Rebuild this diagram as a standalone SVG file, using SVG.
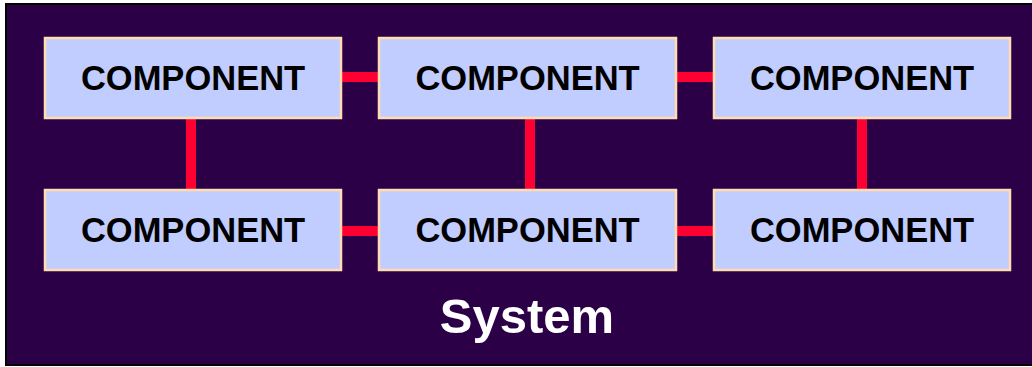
<svg xmlns="http://www.w3.org/2000/svg" width="1032" height="367" viewBox="0 0 1032 367">
<style>
.box{fill:#C1CCFF;stroke:#FFDDB0;stroke-width:2.5}
.lbl{font-family:"Liberation Sans",Arial,sans-serif;font-weight:bold;font-size:34.5px;fill:#000;text-anchor:middle}
.wire{stroke:#FF0033;stroke-width:10;fill:none}
.title{font-family:"Liberation Sans",Arial,sans-serif;font-weight:bold;font-size:49px;fill:#fff;text-anchor:middle}
</style>
<rect width="1032" height="367" fill="#fff"/>
<rect x="6" y="4" width="1030" height="361" fill="#2B0047" stroke="#000" stroke-width="2"/>
<g id="connectors">
<line class="wire" x1="341" y1="77" x2="379" y2="77"/>
<line class="wire" x1="676" y1="77" x2="714" y2="77"/>
<line class="wire" x1="341" y1="231" x2="379" y2="231"/>
<line class="wire" x1="676" y1="231" x2="714" y2="231"/>
<line class="wire" x1="191" y1="118" x2="191" y2="190"/>
<line class="wire" x1="530" y1="118" x2="530" y2="190"/>
<line class="wire" x1="862" y1="118" x2="862" y2="190"/>
</g>
<g id="c1"><rect class="box" x="45" y="38" width="296" height="80"/><text class="lbl" x="193" y="89.5">COMPONENT</text></g>
<g id="c2"><rect class="box" x="379" y="38" width="297" height="80"/><text class="lbl" x="527.5" y="89.5">COMPONENT</text></g>
<g id="c3"><rect class="box" x="714" y="38" width="296" height="80"/><text class="lbl" x="862" y="89.5">COMPONENT</text></g>
<g id="c4"><rect class="box" x="45" y="190" width="296" height="80"/><text class="lbl" x="193" y="241.5">COMPONENT</text></g>
<g id="c5"><rect class="box" x="379" y="190" width="297" height="80"/><text class="lbl" x="527.5" y="241.5">COMPONENT</text></g>
<g id="c6"><rect class="box" x="714" y="190" width="296" height="80"/><text class="lbl" x="862" y="241.5">COMPONENT</text></g>
<text class="title" x="527" y="333">System</text>
</svg>
